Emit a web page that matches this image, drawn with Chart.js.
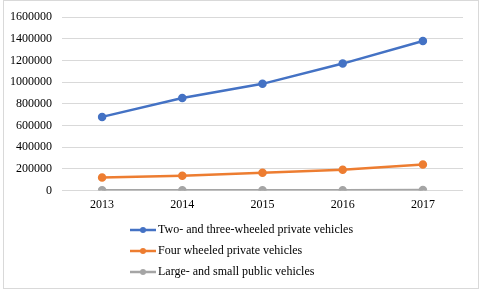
<!DOCTYPE html>
<html>
<head>
<meta charset="utf-8">
<script src="https://cdn.jsdelivr.net/npm/chart.js@4"></script>
<style>
  html, body { margin: 0; padding: 0; background: #fff; }
  #wrap { width: 480px; height: 291px; position: relative; }
</style>
</head>
<body>
<div id="wrap"><canvas id="vehicleChart"></canvas></div>
<script>
const years = ["2013", "2014", "2015", "2016", "2017"];
const twoThreeWheeled = [680000, 855000, 985000, 1172000, 1380000];
const fourWheeled = [120000, 136000, 165000, 193000, 240000];
const publicVehicles = [3500, 3700, 4100, 4300, 4600];
const seriesNames = [
  "Two- and three-wheeled private vehicles",
  "Four wheeled private vehicles",
  "Large- and small public vehicles",
];
const seriesColors = ["#4472C4", "#ED7D31", "#A5A5A5"];

const fontFamily = "'Liberation Serif', 'Times New Roman', serif";

// legend drawn as a vertical list under the axis, like the Excel one
const listLegend = {
  id: "listLegend",
  afterDraw(chart) {
    const ctx = chart.ctx;
    ctx.save();
    ctx.font = "12px " + fontFamily;
    ctx.textBaseline = "middle";
    chart.data.datasets.forEach((ds, i) => {
      const y = 230 + i * 21;
      ctx.strokeStyle = ds.borderColor;
      ctx.lineWidth = 2.5;
      ctx.beginPath();
      ctx.moveTo(130, y);
      ctx.lineTo(156, y);
      ctx.stroke();
      ctx.fillStyle = ds.borderColor;
      ctx.beginPath();
      ctx.arc(143, y, 3, 0, Math.PI * 2);
      ctx.fill();
      ctx.fillStyle = "#000";
      ctx.fillText(ds.label, 158, y);
    });
    // chart border
    ctx.strokeStyle = "#d9d9d9";
    ctx.lineWidth = 1;
    ctx.strokeRect(3.5, 0.5, 475, 288);
    ctx.restore();
  },
};

const ctx = document.getElementById("vehicleChart").getContext("2d");
new Chart(ctx, {
  type: "line",
  data: {
    labels: years,
    datasets: [twoThreeWheeled, fourWheeled, publicVehicles].map((values, i) => ({
      label: seriesNames[i],
      data: values,
      borderColor: seriesColors[i],
      backgroundColor: seriesColors[i],
      borderWidth: 2.5,
      pointRadius: 3,
      pointHoverRadius: 3,
      tension: 0,
    })),
  },
  options: {
    responsive: true,
    maintainAspectRatio: false,
    animation: false,
    layout: {
      padding: { left: 0, right: 17, top: 10, bottom: 72 },
    },
    plugins: {
      legend: { display: false },
      tooltip: { enabled: false },
    },
    scales: {
      x: {
        offset: true,
        grid: { display: false, drawTicks: false },
        border: { display: false },
        ticks: {
          color: "#000",
          padding: 7,
          font: { family: fontFamily, size: 12 },
        },
      },
      y: {
        min: 0,
        max: 1600000,
        grid: { color: "#d9d9d9", drawTicks: false },
        border: { display: false },
        ticks: {
          stepSize: 200000,
          color: "#000",
          padding: 10,
          font: { family: fontFamily, size: 12 },
          callback: (v) => String(v),
        },
      },
    },
  },
  plugins: [listLegend],
});
</script>
</body>
</html>
